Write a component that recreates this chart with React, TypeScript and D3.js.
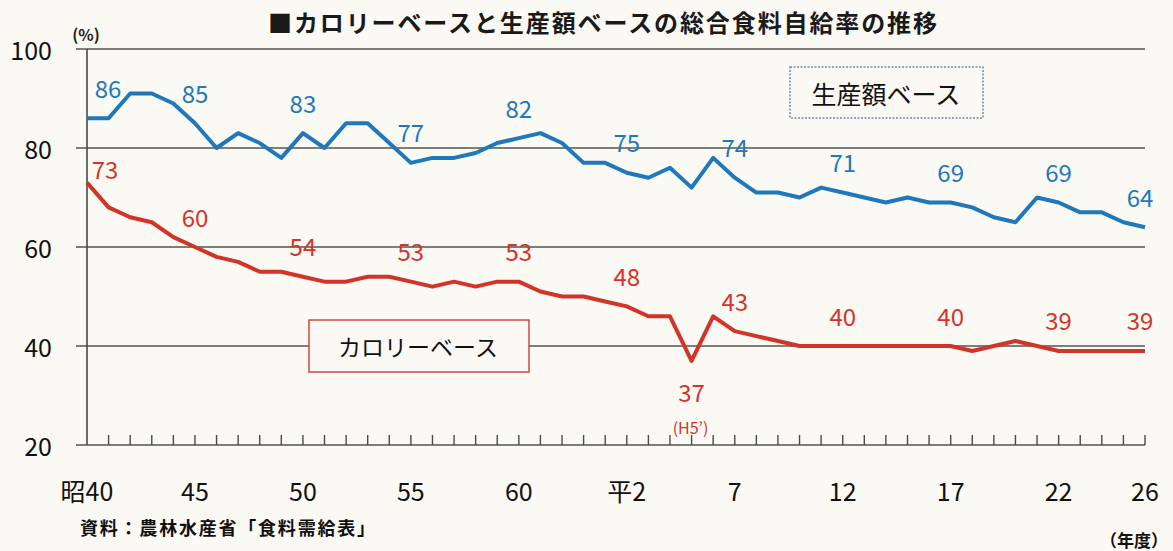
import React, { useEffect, useRef } from 'react';
import * as d3 from 'd3';

// 年度（昭和40年度〜平成26年度）
const years = [
  1965, 1966, 1967, 1968, 1969, 1970, 1971, 1972, 1973, 1974,
  1975, 1976, 1977, 1978, 1979, 1980, 1981, 1982, 1983, 1984,
  1985, 1986, 1987, 1988, 1989, 1990, 1991, 1992, 1993, 1994,
  1995, 1996, 1997, 1998, 1999, 2000, 2001, 2002, 2003, 2004,
  2005, 2006, 2007, 2008, 2009, 2010, 2011, 2012, 2013, 2014,
];

// 生産額ベース (%)
const production = [
  86, 86, 91, 91, 89, 85, 80, 83, 81, 78,
  83, 80, 85, 85, 81, 77, 78, 78, 79, 81,
  82, 83, 81, 77, 77, 75, 74, 76, 72, 78,
  74, 71, 71, 70, 72, 71, 70, 69, 70, 69,
  69, 68, 66, 65, 70, 69, 67, 67, 65, 64,
];

// カロリーベース (%)
const calorie = [
  73, 68, 66, 65, 62, 60, 58, 57, 55, 55,
  54, 53, 53, 54, 54, 53, 52, 53, 52, 53,
  53, 51, 50, 50, 49, 48, 46, 46, 37, 46,
  43, 42, 41, 40, 40, 40, 40, 40, 40, 40,
  40, 39, 40, 41, 40, 39, 39, 39, 39, 39,
];

// x軸ラベル
const tickYears = [1965, 1970, 1975, 1980, 1985, 1990, 1995, 2000, 2005, 2010, 2014];
const tickLabels = ['昭40', '45', '50', '55', '60', '平2', '7', '12', '17', '22', '26'];

// 数値ラベルを付ける年度
const labelYears = [1965, 1970, 1975, 1980, 1985, 1990, 1995, 2000, 2005, 2010, 2014];
const lowYear = 1993; // 平成5年（冷害）

const yTicks = [20, 40, 60, 80, 100];

const FONT = '"Noto Sans CJK JP", "Noto Sans", sans-serif';
const BLUE = '#1f78bb';
const RED = '#d3342a';
const BG = '#fbf9f3';

export default function App() {
  const ref = useRef<SVGSVGElement>(null);

  useEffect(() => {
    const width = 1173, height = 551;
    const margin = { top: 49, right: 28, bottom: 106, left: 87 };

    const x = d3.scaleLinear()
      .domain([years[0], years[years.length - 1]])
      .range([margin.left, width - margin.right]);
    const y = d3.scaleLinear()
      .domain([20, 100])
      .range([height - margin.bottom, margin.top]);

    const svg = d3.select(ref.current);
    svg.selectAll('*').remove();

    svg.append('rect').attr('width', width).attr('height', height).attr('fill', BG);

    // タイトル
    svg.append('text')
      .attr('x', 268).attr('y', 21)
      .attr('dominant-baseline', 'central')
      .attr('font-size', 24).attr('font-weight', 'bold')
      .attr('textLength', 669).attr('lengthAdjust', 'spacing')
      .attr('fill', '#1a1a1a')
      .text('■カロリーベースと生産額ベースの総合食料自給率の推移');

    // 横グリッド
    svg.append('g')
      .selectAll('line')
      .data(yTicks)
      .join('line')
      .attr('x1', margin.left - 11).attr('x2', width - margin.right)
      .attr('y1', d => y(d)).attr('y2', d => y(d))
      .attr('stroke', '#55554f').attr('stroke-width', 1.7);

    // y軸
    svg.append('line')
      .attr('x1', margin.left).attr('x2', margin.left)
      .attr('y1', y(100)).attr('y2', y(20))
      .attr('stroke', '#4a4a45').attr('stroke-width', 1.6);

    svg.append('g')
      .selectAll('text')
      .data(yTicks)
      .join('text')
      .attr('x', 52).attr('y', d => y(d))
      .attr('text-anchor', 'end').attr('dominant-baseline', 'central')
      .attr('font-size', 25).attr('fill', '#111')
      .text(d => d);

    svg.append('text')
      .attr('x', 86).attr('y', 34)
      .attr('text-anchor', 'middle').attr('dominant-baseline', 'central')
      .attr('font-size', 16).attr('font-weight', 'bold').attr('fill', '#222')
      .text('(%)');

    // x軸目盛り（各年度）
    svg.append('g')
      .selectAll('line')
      .data(years.slice(1))
      .join('line')
      .attr('x1', d => x(d)).attr('x2', d => x(d))
      .attr('y1', y(20)).attr('y2', y(20) - 10)
      .attr('stroke', '#4a4a45').attr('stroke-width', 1.4);

    svg.append('g')
      .selectAll('text')
      .data(tickYears)
      .join('text')
      .attr('x', d => x(d)).attr('y', 490)
      .attr('text-anchor', 'middle').attr('dominant-baseline', 'central')
      .attr('font-size', 25).attr('fill', '#111')
      .text((d, i) => tickLabels[i]);

    // 折れ線
    const line = d3.line<number>()
      .x((d, i) => x(years[i]))
      .y(d => y(d));

    svg.append('path')
      .datum(production)
      .attr('fill', 'none').attr('stroke', BLUE).attr('stroke-width', 4)
      .attr('stroke-linejoin', 'round')
      .attr('d', line);

    svg.append('path')
      .datum(calorie)
      .attr('fill', 'none').attr('stroke', RED).attr('stroke-width', 4)
      .attr('stroke-linejoin', 'round')
      .attr('d', line);

    // 数値ラベル
    const last = labelYears.length - 1;
    const dxFor = (i: number, first: number) => (i === 0 ? first : i === last ? -5 : 0);

    svg.append('g')
      .selectAll('text')
      .data(labelYears)
      .join('text')
      .attr('x', (d, i) => x(d) + dxFor(i, 21))
      .attr('y', d => y(production[years.indexOf(d)]) - 31)
      .attr('text-anchor', 'middle').attr('dominant-baseline', 'central')
      .attr('font-size', 24).attr('fill', BLUE)
      .text(d => production[years.indexOf(d)]);

    svg.append('g')
      .selectAll('text')
      .data(labelYears)
      .join('text')
      .attr('x', (d, i) => x(d) + dxFor(i, 18))
      .attr('y', (d, i) => y(calorie[years.indexOf(d)]) - (i === 0 ? 14 : 31))
      .attr('text-anchor', 'middle').attr('dominant-baseline', 'central')
      .attr('font-size', 24).attr('fill', RED)
      .text(d => calorie[years.indexOf(d)]);

    const lowVal = calorie[years.indexOf(lowYear)];
    svg.append('text')
      .attr('x', x(lowYear)).attr('y', y(lowVal) + 31)
      .attr('text-anchor', 'middle').attr('dominant-baseline', 'central')
      .attr('font-size', 24).attr('fill', RED)
      .text(lowVal);
    svg.append('text')
      .attr('x', x(lowYear) - 1).attr('y', y(lowVal) + 66)
      .attr('text-anchor', 'middle').attr('dominant-baseline', 'central')
      .attr('font-size', 16).attr('fill', RED)
      .text('(H5’)');

    // 凡例ボックス
    svg.append('rect')
      .attr('x', 790).attr('y', 67).attr('width', 193).attr('height', 51)
      .attr('fill', BG).attr('stroke', '#6f8fa8').attr('stroke-width', 1.5)
      .attr('stroke-dasharray', '2,1.5');
    svg.append('text')
      .attr('x', 886).attr('y', 93)
      .attr('text-anchor', 'middle').attr('dominant-baseline', 'central')
      .attr('font-size', 25).attr('fill', '#111')
      .text('生産額ベース');

    svg.append('rect')
      .attr('x', 309).attr('y', 320).attr('width', 220).attr('height', 52)
      .attr('fill', BG).attr('stroke', '#d0493f').attr('stroke-width', 1.5);
    svg.append('text')
      .attr('x', 418).attr('y', 346)
      .attr('text-anchor', 'middle').attr('dominant-baseline', 'central')
      .attr('font-size', 23).attr('fill', '#111')
      .text('カロリーベース');

    // 出典・単位
    svg.append('text')
      .attr('x', 80).attr('y', 527)
      .attr('dominant-baseline', 'central')
      .attr('font-size', 18).attr('font-weight', 'bold')
      .attr('textLength', 295).attr('lengthAdjust', 'spacing')
      .attr('fill', '#111')
      .text('資料：農林水産省「食料需給表」');

    svg.append('text')
      .attr('x', 1168).attr('y', 539)
      .attr('text-anchor', 'end').attr('dominant-baseline', 'central')
      .attr('font-size', 17).attr('font-weight', 'bold')
      .attr('fill', '#111')
      .text('（年度）');
  }, []);

  return (
    <svg
      ref={ref}
      width={1173}
      height={551}
      style={{ position: 'absolute', left: 0, top: 0, fontFamily: FONT }}
    />
  );
}
